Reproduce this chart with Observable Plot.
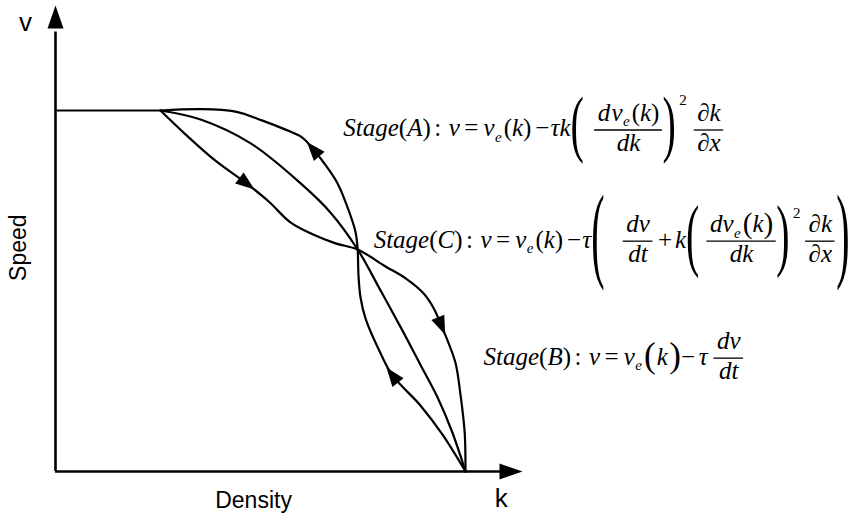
<!DOCTYPE html>
<html>
<head>
<meta charset="utf-8">
<script src="https://cdn.jsdelivr.net/npm/d3@7"></script>
<script src="https://cdn.jsdelivr.net/npm/@observablehq/plot@0.6"></script>
<style>
  html, body { margin: 0; padding: 0; background: #fff; }
</style>
</head>
<body>
<div id="chart"></div>
<script>
// Density k is normalised to the jam density, speed v to the free-flow speed.

// free-flow plateau
const freeFlowK = [0, 0.256];
const freeFlowV = [1, 1];

// equilibrium speed–density relation v_e(k)
const equilibriumK = [0.256, 0.354, 0.476, 0.598, 0.671, 0.737, 0.793, 0.846, 0.890, 0.932, 0.968, 1.000];
const equilibriumV = [1.000, 0.975, 0.909, 0.798, 0.717, 0.615, 0.501, 0.391, 0.296, 0.205, 0.108, 0.000];

// breakdown branch, listed in the direction of travel (free flow -> jam)
const breakdownK = [0.256, 0.317, 0.390, 0.466, 0.520, 0.573, 0.627, 0.683, 0.737, 0.805, 0.854, 0.898, 0.924, 0.941, 0.959, 0.976, 0.988, 0.998, 1.000];
const breakdownV = [1.000, 0.934, 0.861, 0.798, 0.748, 0.690, 0.657, 0.632, 0.615, 0.568, 0.535, 0.493, 0.449, 0.404, 0.355, 0.299, 0.211, 0.108, 0.000];

// recovery branch, listed in the direction of travel (jam -> free flow)
const recoveryK = [1.000, 0.944, 0.890, 0.822, 0.793, 0.756, 0.744, 0.739, 0.737, 0.732, 0.717, 0.688, 0.654, 0.629, 0.602, 0.561, 0.505, 0.439, 0.354, 0.256];
const recoveryV = [0.000, 0.102, 0.183, 0.266, 0.327, 0.424, 0.482, 0.543, 0.615, 0.662, 0.717, 0.798, 0.856, 0.892, 0.925, 0.947, 0.972, 0.997, 1.004, 1.000];

// vertices of each branch that carry a direction arrowhead
const breakdownArrowAt = [3, 13];
const recoveryArrowAt = [3, 13];

// axis extents (arrow tips)
const kAxisMax = 1.139;
const vAxisMax = 1.291;

// axis titles
const axisTitles = [
  {text: "v", k: -0.073, v: 1.244, size: 26, rotate: 0},
  {text: "k", k: 1.087, v: -0.075, size: 26, rotate: 0},
  {text: "Density", k: 0.483, v: -0.080, size: 23, rotate: 0},
  {text: "Speed", k: -0.090, v: 0.620, size: 23, rotate: -90}
];

// formula anchors (left end of the baseline)
const formulaAnchors = {
  A: {k: 0.702, v: 0.928},
  C: {k: 0.776, v: 0.620},
  B: {k: 1.044, v: 0.296}
};

// ---------------------------------------------------------------------------
const xScale = Plot.scale({x: {domain: [0, 1], range: [55, 465]}});
const yScale = Plot.scale({y: {domain: [0, 1], range: [471, 110]}});

const pts = (K, V) => K.map((k, i) => ({k, v: V[i]}));

// arrowheads oriented along the branch, in screen space
function arrowsOn(K, V, at) {
  return at.map((i) => {
    const dx = xScale.apply(K[i + 1]) - xScale.apply(K[i - 1]);
    const dy = yScale.apply(V[i + 1]) - yScale.apply(V[i - 1]);
    return {k: K[i], v: V[i], angle: Math.atan2(dx, -dy) * 180 / Math.PI};
  });
}
const curveArrows = [
  ...arrowsOn(breakdownK, breakdownV, breakdownArrowAt),
  ...arrowsOn(recoveryK, recoveryV, recoveryArrowAt)
];

const arrowHead = {draw(c) { c.moveTo(0, -10); c.lineTo(7, 9); c.lineTo(-7, 9); c.closePath(); }};
const axisHead = {draw(c) { c.moveTo(0, -11.5); c.lineTo(8, 11.5); c.lineTo(-8, 11.5); c.closePath(); }};

// axis arrowheads sit just inside the tips
const headLen = 23;
const kHeadBase = xScale.invert(xScale.apply(kAxisMax) - headLen);
const vHeadBase = yScale.invert(yScale.apply(vAxisMax) + headLen);
const axisArrows = [
  {k: 0, v: yScale.invert(yScale.apply(vAxisMax) + headLen / 2), angle: 0},
  {k: xScale.invert(xScale.apply(kAxisMax) - headLen / 2), v: 0, angle: 90}
];

// ---------------------------------------------------------------------------
// small math typesetter: measures glyph runs and lays them out in pixels
const SERIF = "Liberation Serif";
const EM = 25;
const ctx = document.createElement("canvas").getContext("2d");
function textWidth(s, size, italic) {
  ctx.font = `${italic ? "italic " : ""}${size}px "${SERIF}"`;
  return ctx.measureText(s).width;
}
const I = (s) => ({kind: "text", s, italic: true});
const U = (s) => ({kind: "text", s, italic: false});
const gap = (em) => ({kind: "gap", em});
const sub = (...n) => ({kind: "sub", n});
const sup = (raise, ...n) => ({kind: "sup", raise, n});
const frac = (num, den) => ({kind: "frac", num, den});
const fence = (h, padL, padR, ...n) => ({kind: "fence", h, padL, padR, n});

const sink = () => ({glyphs: [], bars: []});
function typeset(nodes, size, x, base, out) {
  for (const n of nodes) x = place(n, size, x, base, out);
  return x;
}
function place(n, size, x, base, out) {
  switch (n.kind) {
    case "text":
      out.glyphs.push({x, y: base, s: n.s, size, italic: n.italic, sy: 1});
      return x + textWidth(n.s, size, n.italic);
    case "gap":
      return x + n.em * size;
    case "sub":
      return typeset(n.n, size * 0.6, x + 0.02 * size, base + 0.22 * size, out) + 0.08 * size;
    case "sup":
      return typeset(n.n, size * 0.6, x + 0.14 * size, base - n.raise * size, out);
    case "frac": {
      const pad = 0.12 * size;
      const wn = typeset(n.num, size, 0, 0, sink());
      const wd = typeset(n.den, size, 0, 0, sink());
      const w = Math.max(wn, wd) + 2 * pad;
      const axis = base - 0.26 * size;
      typeset(n.num, size, x + (w - wn) / 2, axis - 0.36 * size, out);
      typeset(n.den, size, x + (w - wd) / 2, axis + 0.84 * size, out);
      out.bars.push({x1: x, x2: x + w, y: axis});
      return x + w;
    }
    case "fence": {
      // tall delimiters keep a text-sized stroke and are stretched vertically
      const axis = base - 0.26 * size;
      const F = Math.min(n.h / 0.853, 40);
      const sy = n.h / (0.853 * F);
      const adv = textWidth("(", F, false);
      const y = axis + 0.25 * F * sy;
      out.glyphs.push({x, y, s: "(", size: F, italic: false, sy});
      x = typeset(n.n, size, x + adv + n.padL * size, base, out) + n.padR * size;
      out.glyphs.push({x, y, s: ")", size: F, italic: false, sy});
      return x + adv;
    }
  }
}

const dvekA = [I("d"), gap(0.05), I("v"), sub(I("e")), U("("), I("k"), U(")")];
const dvekC = [I("dv"), sub(I("e")), fence(25, 0, 0, I("k"))];
const lhs = (tag) => [I("Stage"), U("("), I(tag), U(")"), gap(0.14), U(":"), gap(0.3), I("v"), gap(0.18), U("="), gap(0.2), I("v"), sub(I("e"))];
const dkdx = frac([U("∂"), I("k")], [U("∂"), I("x")]);

const formulas = {
  A: [...lhs("A"), U("("), I("k"), U(")"), gap(0.15), U("−"), gap(0.05), I("τk"),
      fence(63, 0.43, 0, frac(dvekA, [I("dk")])), sup(1.25, U("2")), gap(0.3), dkdx],
  C: [...lhs("C"), U("("), I("k"), U(")"), gap(0.15), U("−"), gap(0.05), I("τ"),
      fence(90, 0.75, 0.05, frac([I("dv")], [I("dt")]), gap(0.2), U("+"), gap(0.12), I("k"),
        fence(68, 0.3, 0, frac(dvekC, [I("dk")])), sup(1.18, U("2")), gap(0.2), dkdx)],
  B: [...lhs("B"), fence(30, 0.05, 0.05, I("k")), U("−"), gap(0.15), I("τ"), gap(0.25), frac([I("dv")], [I("dt")])]
};

const glyphs = [];
const bars = [];
for (const [name, nodes] of Object.entries(formulas)) {
  const a = formulaAnchors[name];
  const ax = xScale.apply(a.k), ay = yScale.apply(a.v);
  const out = sink();
  typeset(nodes, EM, 0, 0, out);
  for (const g of out.glyphs) glyphs.push({...g, k: xScale.invert(ax + g.x), v: yScale.invert(ay + g.y)});
  for (const b of out.bars) bars.push({k1: xScale.invert(ax + b.x1), k2: xScale.invert(ax + b.x2), v: yScale.invert(ay + b.y)});
}
const glyphGroups = Array.from(d3.group(glyphs, (g) => `${g.size.toFixed(2)}|${g.italic}`).values());

// ---------------------------------------------------------------------------
const chart = Plot.plot({
  width: 853,
  height: 521,
  x: {domain: [0, 1], range: [55, 465], axis: null},
  y: {domain: [0, 1], range: [471, 110], axis: null},
  style: {background: "#fff"},
  marks: [
    // axes
    Plot.ruleY([0], {x1: 0, x2: kHeadBase + 0.01, stroke: "black", strokeWidth: 2.6}),
    Plot.ruleX([0], {y1: 0, y2: vHeadBase - 0.01, stroke: "black", strokeWidth: 2.6}),
    Plot.dot(axisArrows, {x: "k", y: "v", rotate: "angle", symbol: axisHead, r: 5, fill: "black", stroke: "none"}),

    // speed–density branches
    Plot.line(pts(freeFlowK, freeFlowV), {x: "k", y: "v", stroke: "black", strokeWidth: 2.2}),
    Plot.line(pts(equilibriumK, equilibriumV), {x: "k", y: "v", curve: "catmull-rom", stroke: "black", strokeWidth: 2.2}),
    Plot.line(pts(breakdownK, breakdownV), {x: "k", y: "v", curve: "catmull-rom", stroke: "black", strokeWidth: 2.2}),
    Plot.line(pts(recoveryK, recoveryV), {x: "k", y: "v", curve: "catmull-rom", stroke: "black", strokeWidth: 2.2}),
    Plot.dot(curveArrows, {x: "k", y: "v", rotate: "angle", symbol: arrowHead, r: 5, fill: "black", stroke: "none"}),

    // axis titles
    ...axisTitles.map((t) => Plot.text([t], {
      x: "k", y: "v", text: "text", rotate: t.rotate, fontSize: t.size,
      fontFamily: "Liberation Sans, Arial, sans-serif", fill: "black", textAnchor: "middle", lineAnchor: "middle"
    })),

    // formulas
    Plot.ruleY(bars, {x1: "k1", x2: "k2", y: "v", stroke: "black", strokeWidth: 1.3}),
    ...glyphGroups.map((grp) => Plot.text(grp, {
      x: "k", y: "v", text: "s", fontSize: grp[0].size, fontStyle: grp[0].italic ? "italic" : "normal",
      fontFamily: SERIF, fill: "black", textAnchor: "start", lineAnchor: "bottom",
      ariaLabel: (d) => `glyph ${d.sy}`
    }))
  ]
});

// stretch the tall delimiters vertically about their baseline
chart.querySelectorAll('text[aria-label^="glyph "]').forEach((t) => {
  const sy = +t.getAttribute("aria-label").slice(6);
  if (!(sy > 0) || sy === 1) return;
  const tr = t.getAttribute("transform");
  if (tr) {
    t.setAttribute("transform", `${tr} scale(1,${sy})`);
  } else {
    const y = +(t.getAttribute("y") || 0);
    t.removeAttribute("y");
    t.setAttribute("transform", `translate(0,${y}) scale(1,${sy})`);
  }
});

document.getElementById("chart").appendChild(chart);
</script>
</body>
</html>
